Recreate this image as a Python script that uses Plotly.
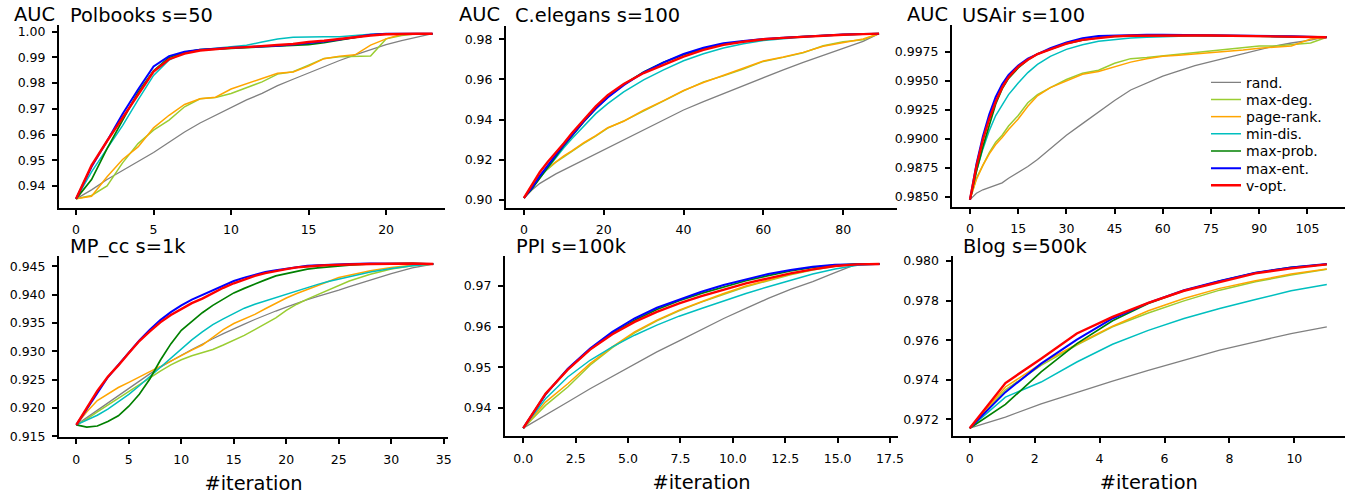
import plotly.graph_objects as go

W, H = 1351, 496

METHODS = ["rand.", "max-deg.", "page-rank.", "min-dis.", "max-prob.", "max-ent.", "v-opt."]

# ---------------- Polbooks s=50 ----------------
polbooks_x = list(range(24))
polbooks_rand = [0.935, 0.9385, 0.9425, 0.946, 0.9495, 0.953, 0.957, 0.961, 0.9645, 0.9675, 0.9705, 0.9735,
                 0.976, 0.979, 0.9815, 0.984, 0.9865, 0.9888, 0.991, 0.993, 0.995, 0.9965, 0.998, 0.9992]
polbooks_maxdeg = [0.935, 0.9363, 0.940, 0.949, 0.9565, 0.9617, 0.9656, 0.9708, 0.9739, 0.9744, 0.976, 0.9783,
                   0.9805, 0.9835, 0.9844, 0.987, 0.9896, 0.9903, 0.9905, 0.9905, 0.9972, 0.9985, 0.9992, 0.9992]
polbooks_pagerank = [0.935, 0.936, 0.9436, 0.9503, 0.9552, 0.9626, 0.9675, 0.9717, 0.9739, 0.9745, 0.9777, 0.9799,
                     0.9818, 0.9838, 0.9843, 0.9866, 0.9895, 0.9905, 0.991, 0.9948, 0.9972, 0.999, 0.9992, 0.9992]
polbooks_mindis = [0.935, 0.9455, 0.9545, 0.9635, 0.9735, 0.983, 0.989, 0.992, 0.993, 0.9935, 0.994, 0.9947,
                   0.996, 0.9972, 0.9978, 0.998, 0.998, 0.998, 0.9985, 0.999, 0.9992, 0.9992, 0.9992, 0.9992]
polbooks_maxprob = [0.935, 0.9425, 0.9545, 0.9655, 0.9765, 0.9848, 0.990, 0.992, 0.993, 0.9932, 0.9935, 0.9937,
                    0.994, 0.9942, 0.9945, 0.995, 0.9957, 0.9967, 0.9978, 0.9987, 0.9992, 0.9992, 0.9992, 0.9992]
polbooks_maxent = [0.935, 0.9475, 0.9575, 0.968, 0.9775, 0.9865, 0.9905, 0.9922, 0.993, 0.9935, 0.9938, 0.994,
                   0.9942, 0.9945, 0.995, 0.9955, 0.9962, 0.997, 0.998, 0.9988, 0.9992, 0.9992, 0.9992, 0.9992]
polbooks_vopt = [0.935, 0.948, 0.9575, 0.9665, 0.976, 0.9845, 0.9893, 0.9915, 0.9927, 0.9933, 0.9937, 0.994,
                 0.9945, 0.9948, 0.9952, 0.996, 0.9965, 0.9972, 0.998, 0.9985, 0.999, 0.9992, 0.9992, 0.9992]

# ---------------- C.elegans s=100 ----------------
celegans_x = [0, 2, 4, 6, 8, 10, 12, 15, 18, 21, 25, 30, 35, 40, 45, 50, 55, 60, 65, 70, 75, 80, 85, 89]
celegans_rand = [0.901, 0.905, 0.9083, 0.9108, 0.913, 0.915, 0.917, 0.920, 0.923, 0.926, 0.930, 0.935,
                 0.940, 0.9448, 0.949, 0.953, 0.957, 0.961, 0.9648, 0.9685, 0.972, 0.9755, 0.979, 0.9828]
celegans_maxdeg = [0.901, 0.907, 0.912, 0.9155, 0.9188, 0.9215, 0.9243, 0.9282, 0.9318, 0.9358, 0.9393, 0.9443,
                   0.9492, 0.9543, 0.9588, 0.9618, 0.9652, 0.969, 0.971, 0.9733, 0.9768, 0.9788, 0.9798, 0.9828]
celegans_pagerank = [0.901, 0.9075, 0.9125, 0.916, 0.919, 0.922, 0.9245, 0.9285, 0.932, 0.936, 0.9392, 0.9447,
                     0.9495, 0.9545, 0.9585, 0.962, 0.9655, 0.9692, 0.9712, 0.9735, 0.9765, 0.9785, 0.9802, 0.9828]
celegans_mindis = [0.901, 0.906, 0.9115, 0.9165, 0.9215, 0.926, 0.9305, 0.937, 0.943, 0.948, 0.9538, 0.9598,
                   0.9648, 0.9693, 0.9728, 0.9757, 0.9778, 0.9794, 0.9804, 0.9812, 0.9818, 0.9823, 0.9826, 0.9828]
celegans_maxprob = [0.901, 0.9055, 0.911, 0.9165, 0.9218, 0.927, 0.9318, 0.939, 0.9455, 0.9512, 0.9575, 0.9637,
                    0.9685, 0.9723, 0.9753, 0.9775, 0.979, 0.980, 0.9807, 0.9814, 0.982, 0.9824, 0.9826, 0.9828]
celegans_maxent = [0.901, 0.906, 0.912, 0.9175, 0.9225, 0.9275, 0.9322, 0.9392, 0.9455, 0.951, 0.9572, 0.9635,
                   0.9685, 0.9727, 0.9758, 0.978, 0.9792, 0.9802, 0.9808, 0.9814, 0.982, 0.9824, 0.9826, 0.9828]
celegans_vopt = [0.901, 0.9075, 0.914, 0.919, 0.9235, 0.9283, 0.9332, 0.940, 0.9466, 0.9522, 0.9578, 0.9632,
                 0.9675, 0.9714, 0.9747, 0.9772, 0.9788, 0.980, 0.9807, 0.9813, 0.9819, 0.9823, 0.9826, 0.9828]

# ---------------- USAir s=100 ----------------
usair_x = [0, 2, 4, 6, 8, 10, 12, 15, 18, 21, 25, 30, 35, 40, 45, 50, 55, 60, 65, 70, 75, 80, 85, 90, 95, 100, 106, 111]
usair_rand = [0.98475, 0.9853, 0.9856, 0.9858, 0.986, 0.9862, 0.9866, 0.9871, 0.9876, 0.9882, 0.9891, 0.9903,
              0.9913, 0.9923, 0.9933, 0.9942, 0.9948, 0.9954, 0.99585, 0.9963, 0.99665, 0.997, 0.99735, 0.9977,
              0.998, 0.99825, 0.9985, 0.9988]
usair_maxdeg = [0.98475, 0.9866, 0.9877, 0.9888, 0.9897, 0.9903, 0.9911, 0.992, 0.9931, 0.9938, 0.9944, 0.9951,
                0.99565, 0.9959, 0.9965, 0.9969, 0.997, 0.99715, 0.9973, 0.9974, 0.99755, 0.9977, 0.99785, 0.998,
                0.998, 0.99812, 0.99825, 0.99875]
usair_pagerank = [0.98475, 0.9865, 0.9877, 0.9887, 0.9895, 0.9901, 0.9908, 0.9917, 0.9928, 0.9937, 0.9944, 0.995,
                  0.99555, 0.9958, 0.9962, 0.9966, 0.9969, 0.9971, 0.9972, 0.9973, 0.9974, 0.9975, 0.99765, 0.9978,
                  0.9979, 0.998, 0.9986, 0.99875]
usair_mindis = [0.98475, 0.9872, 0.9891, 0.9907, 0.992, 0.9929, 0.9938, 0.9948, 0.9957, 0.9964, 0.9971, 0.9977,
                0.9981, 0.9984, 0.99855, 0.99868, 0.99875, 0.9988, 0.99885, 0.99888, 0.99888, 0.99887, 0.99886,
                0.99884, 0.99882, 0.9988, 0.99878, 0.99875]
usair_maxprob = [0.98475, 0.9872, 0.9893, 0.9912, 0.993, 0.9943, 0.9952, 0.9961, 0.9968, 0.9973, 0.9977, 0.9982,
                 0.9985, 0.9987, 0.99882, 0.99888, 0.9989, 0.99892, 0.99892, 0.9989, 0.9989, 0.99888, 0.99886,
                 0.99884, 0.99882, 0.9988, 0.99878, 0.99875]
usair_maxent = [0.98475, 0.9878, 0.9902, 0.9921, 0.9936, 0.9947, 0.9955, 0.9963, 0.9969, 0.9973, 0.9978, 0.9983,
                0.99865, 0.99885, 0.9989, 0.99895, 0.99897, 0.99897, 0.99896, 0.99895, 0.99893, 0.9989, 0.99888,
                0.99886, 0.99884, 0.99882, 0.99878, 0.99875]
usair_vopt = [0.98475, 0.9876, 0.9899, 0.9917, 0.9932, 0.9944, 0.9953, 0.9962, 0.9968, 0.9973, 0.9977, 0.9982,
              0.99852, 0.9987, 0.99882, 0.99888, 0.9989, 0.99892, 0.99892, 0.9989, 0.9989, 0.99888, 0.99886,
              0.99884, 0.99882, 0.9988, 0.99878, 0.99875]

# ---------------- MP_cc s=1k ----------------
mpcc_x = list(range(27)) + [28, 30, 32, 34]
mpcc_rand = [0.917, 0.9183, 0.9196, 0.9209, 0.9222, 0.9235, 0.9248, 0.926, 0.9272, 0.9283, 0.9293, 0.9303,
             0.9313, 0.9322, 0.9331, 0.934, 0.9348, 0.9356, 0.9364, 0.9371, 0.9378, 0.9385, 0.9391, 0.9397,
             0.9402, 0.9408, 0.9414, 0.9426, 0.9437, 0.9447, 0.9454]
mpcc_maxdeg = [0.917, 0.918, 0.9193, 0.9205, 0.9217, 0.923, 0.9242, 0.9254, 0.9265, 0.9276, 0.9285, 0.9292,
               0.9298, 0.9303, 0.9311, 0.9319, 0.9328, 0.9338, 0.9349, 0.9359, 0.9372, 0.9383, 0.9392, 0.940,
               0.9409, 0.9417, 0.9424, 0.9436, 0.9445, 0.9451, 0.9454]
mpcc_pagerank = [0.917, 0.9193, 0.9213, 0.9225, 0.9236, 0.9245, 0.9255, 0.9264, 0.9273, 0.9283, 0.9293, 0.9302,
                 0.9311, 0.9325, 0.9338, 0.9349, 0.9357, 0.9365, 0.9375, 0.9385, 0.9394, 0.9402, 0.9409, 0.9416,
                 0.9422, 0.943, 0.9434, 0.9442, 0.9448, 0.9452, 0.9454]
mpcc_mindis = [0.917, 0.9178, 0.9187, 0.9198, 0.9211, 0.9224, 0.9239, 0.9255, 0.9271, 0.9288, 0.9304, 0.932,
               0.9334, 0.9347, 0.9357, 0.9367, 0.9376, 0.9383, 0.9389, 0.9395, 0.9401, 0.9406, 0.9412, 0.9418,
               0.9423, 0.9427, 0.9432, 0.944, 0.9446, 0.9451, 0.9454]
mpcc_maxprob = [0.917, 0.9166, 0.9168, 0.9176, 0.9186, 0.9203, 0.9224, 0.9251, 0.9284, 0.9313, 0.9337, 0.9353,
                0.9368, 0.9381, 0.9392, 0.9403, 0.9411, 0.9419, 0.9426, 0.9433, 0.9437, 0.9441, 0.9445, 0.9447,
                0.9449, 0.945, 0.9452, 0.9454, 0.9455, 0.9455, 0.9454]
mpcc_maxent = [0.917, 0.9198, 0.9228, 0.9254, 0.9276, 0.9298, 0.9319, 0.9338, 0.9355, 0.9369, 0.9381, 0.9391,
               0.9399, 0.9408, 0.9416, 0.9424, 0.943, 0.9435, 0.944, 0.9443, 0.9446, 0.9449, 0.9451, 0.9452,
               0.9453, 0.9454, 0.9454, 0.9455, 0.9455, 0.9455, 0.9454]
mpcc_vopt = [0.917, 0.9201, 0.923, 0.9255, 0.9275, 0.9297, 0.9318, 0.9335, 0.9351, 0.9364, 0.9375, 0.9385,
             0.9393, 0.9403, 0.9412, 0.942, 0.9427, 0.9433, 0.9438, 0.9442, 0.9445, 0.9448, 0.945, 0.9451,
             0.9452, 0.9453, 0.9453, 0.9454, 0.9455, 0.9455, 0.9454]

# ---------------- PPI s=100k ----------------
ppi_x = [0.0, 1.0625, 2.125, 3.1875, 4.25, 5.3125, 6.375, 7.4375, 8.5, 9.5625, 10.625, 11.6875, 12.75,
         13.8125, 14.875, 15.9375, 17.0]
ppi_rand = [0.93508, 0.9382, 0.94149, 0.94477, 0.94781, 0.95094, 0.95381, 0.95652, 0.95932, 0.96203, 0.9645,
            0.96696, 0.96918, 0.97107, 0.97329, 0.97542, 0.97542]
ppi_maxdeg = [0.93508, 0.94067, 0.94519, 0.95053, 0.95489, 0.9585, 0.96146, 0.96392, 0.96606, 0.96803, 0.96984,
              0.97132, 0.97279, 0.97394, 0.97485, 0.97542, 0.97542]
ppi_pagerank = [0.93508, 0.94149, 0.946, 0.95094, 0.95505, 0.95874, 0.96162, 0.96408, 0.96614, 0.96819, 0.97,
                0.97148, 0.97296, 0.97411, 0.97493, 0.97542, 0.97542]
ppi_mindis = [0.93508, 0.94231, 0.94765, 0.95176, 0.95505, 0.95792, 0.96039, 0.9626, 0.96449, 0.96638, 0.96819,
              0.96984, 0.97148, 0.97296, 0.97419, 0.9751, 0.97542]
ppi_maxprob = [0.93508, 0.94338, 0.94954, 0.95447, 0.95833, 0.96162, 0.96425, 0.96639, 0.96819, 0.96984, 0.97131,
               0.97255, 0.9737, 0.9746, 0.97518, 0.97542, 0.97542]
ppi_maxent = [0.93508, 0.94338, 0.9497, 0.95463, 0.95874, 0.96203, 0.96466, 0.96671, 0.9686, 0.97025, 0.97164,
              0.97296, 0.97394, 0.97477, 0.97526, 0.97542, 0.97542]
ppi_vopt = [0.93508, 0.94354, 0.94946, 0.95439, 0.95817, 0.96121, 0.96367, 0.96573, 0.96753, 0.96918, 0.97066,
            0.97189, 0.97312, 0.97411, 0.97493, 0.97534, 0.97542]

# ---------------- Blog s=500k ----------------
blog_x = [0.0, 1.1, 2.2, 3.3, 4.4, 5.5, 6.6, 7.7, 8.8, 9.9, 11.0]
blog_rand = [0.97156, 0.97212, 0.97279, 0.97338, 0.97394, 0.97448, 0.97499, 0.9755, 0.97592, 0.97634, 0.97668]
blog_maxdeg = [0.97156, 0.9735, 0.97473, 0.97575, 0.97668, 0.97738, 0.97799, 0.97853, 0.97895, 0.97929, 0.97958]
blog_pagerank = [0.97156, 0.97364, 0.97482, 0.9758, 0.97671, 0.97749, 0.97811, 0.97862, 0.979, 0.97934, 0.9796]
blog_mindis = [0.97156, 0.97313, 0.97389, 0.9749, 0.9758, 0.9765, 0.9771, 0.9776, 0.97806, 0.9785, 0.97882]
blog_maxprob = [0.97156, 0.97276, 0.9744, 0.97583, 0.97698, 0.97786, 0.9785, 0.97899, 0.97941, 0.97968, 0.97983]
blog_maxent = [0.97156, 0.97338, 0.97482, 0.97603, 0.9771, 0.97789, 0.97853, 0.979, 0.97941, 0.97968, 0.97985]
blog_vopt = [0.97156, 0.97384, 0.97507, 0.97634, 0.97718, 0.97789, 0.9785, 0.97895, 0.97938, 0.97963, 0.97983]

# ---------------- styling ----------------
COLORS = ["#808080", "#9acd32", "#ffa500", "#00bfbf", "#008000", "#0000ff", "#ff0000"]
WIDTHS = [1.3, 1.5, 1.5, 1.5, 1.7, 2.0, 2.4]
FONT = "DejaVu Sans"

panels = [
    dict(name="Polbooks s=50", x=polbooks_x,
         ys=[polbooks_rand, polbooks_maxdeg, polbooks_pagerank, polbooks_mindis, polbooks_maxprob, polbooks_maxent, polbooks_vopt],
         xd=(59, 445), yd=(25, 207.7), xr=(-1.1, 23.8), yr=(0.93156, 1.0026),
         xt=(0, 5, None), yt=(0.94, 0.01, ".2f"), auc_x=11.7, title_x=67.7, row=1),
    dict(name="C.elegans s=100", x=celegans_x,
         ys=[celegans_rand, celegans_maxdeg, celegans_pagerank, celegans_mindis, celegans_maxprob, celegans_maxent, celegans_vopt],
         xd=(506, 897), yd=(26, 207.5), xr=(-4.5, 93.5), yr=(0.89627, 0.98662),
         xt=(0, 20, None), yt=(0.90, 0.02, ".2f"), auc_x=457.3, title_x=513.3, row=1),
    dict(name="USAir s=100", x=usair_x,
         ys=[usair_rand, usair_maxdeg, usair_pagerank, usair_mindis, usair_maxprob, usair_maxent, usair_vopt],
         xd=(952, 1345), yd=(25, 207.3), xr=(-5.6, 116.7), yr=(0.98409, 0.9998),
         xt=(0, 15, None), yt=(0.985, 0.0025, ".4f"), auc_x=905, title_x=960, row=1),
    dict(name="MP_cc s=1k", x=mpcc_x,
         ys=[mpcc_rand, mpcc_maxdeg, mpcc_pagerank, mpcc_mindis, mpcc_maxprob, mpcc_maxent, mpcc_vopt],
         xd=(59, 448), yd=(255.5, 436.5), xr=(-1.65, 35.4), yr=(0.91495, 0.9469),
         xt=(0, 5, None), yt=(0.915, 0.005, ".3f"), auc_x=None, title_x=67.7, row=2),
    dict(name="PPI s=100k", x=ppi_x,
         ys=[ppi_rand, ppi_maxdeg, ppi_pagerank, ppi_mindis, ppi_maxprob, ppi_maxent, ppi_vopt],
         xd=(505, 898), yd=(256, 435.5), xr=(-0.87, 17.88), yr=(0.93327, 0.97739),
         xt=(0, 2.5, ".1f"), yt=(0.94, 0.01, ".2f"), auc_x=None, title_x=514, row=2),
    dict(name="Blog s=500k", x=blog_x,
         ys=[blog_rand, blog_maxdeg, blog_pagerank, blog_mindis, blog_maxprob, blog_maxent, blog_vopt],
         xd=(952.5, 1345), yd=(255.5, 435.5), xr=(-0.53, 11.56), yr=(0.97119, 0.98028),
         xt=(0, 2, None), yt=(0.972, 0.002, ".3f"), auc_x=None, title_x=961, row=2),
]

LEGEND_PANEL = 2
LEGEND_LEFT = 1206
LEGEND_ROW0 = 82.7
LEGEND_STEP = 17.17

fig = go.Figure()
layout = dict(
    width=W, height=H, margin=dict(l=0, r=0, t=0, b=0),
    paper_bgcolor="white", plot_bgcolor="white",
    font=dict(family=FONT, color="black", size=12.5),
    showlegend=True,
    annotations=[],
)

# one single-entry legend per method (legend2..legend8) so rows sit as close as in the reference
legend_ids = []
for j in range(len(METHODS)):
    lid = "legend%d" % (j + 2)
    legend_ids.append(lid)
    layout[lid] = dict(x=LEGEND_LEFT / W, y=1 - (LEGEND_ROW0 + LEGEND_STEP * j) / H,
                       xanchor="left", yanchor="middle", orientation="v",
                       font=dict(family=FONT, size=14, color="black"),
                       bgcolor="rgba(0,0,0,0)", borderwidth=0)

axis_common = dict(showline=True, linecolor="black", linewidth=2, ticks="outside", ticklen=5,
                   tickwidth=1.5, tickcolor="black", showgrid=False, zeroline=False, mirror=False,
                   tickfont=dict(family=FONT, size=12.5, color="black"), automargin=False)

for i, p in enumerate(panels):
    k = "" if i == 0 else str(i + 1)
    xa, ya = "x" + k, "y" + k
    for j, (m, yv) in enumerate(zip(METHODS, p["ys"])):
        fig.add_trace(go.Scatter(x=p["x"], y=yv, mode="lines", name=m, xaxis=xa, yaxis=ya,
                                 line=dict(color=COLORS[j], width=WIDTHS[j]),
                                 showlegend=(i == LEGEND_PANEL), legend=legend_ids[j],
                                 hoverinfo="skip"))
    xd = [p["xd"][0] / W, p["xd"][1] / W]
    yd = [1 - p["yd"][1] / H, 1 - p["yd"][0] / H]
    xax = dict(axis_common, domain=xd, range=list(p["xr"]), anchor=ya, tickmode="linear",
               tick0=p["xt"][0], dtick=p["xt"][1], ticklabelstandoff=4 if p["row"] == 1 else 5)
    if p["xt"][2]:
        xax["tickformat"] = p["xt"][2]
    if p["row"] == 2:
        xax["title"] = dict(text="#iteration", font=dict(family=FONT, size=19.4, color="black"), standoff=11)
    yax = dict(axis_common, domain=yd, range=list(p["yr"]), anchor=xa, tickmode="linear",
               tick0=p["yt"][0], dtick=p["yt"][1], tickformat=p["yt"][2], ticklabelstandoff=4)
    layout["xaxis" + k] = xax
    layout["yaxis" + k] = yax
    ty = 15 if p["row"] == 1 else 246
    layout["annotations"].append(dict(text=p["name"], xref="paper", yref="paper", x=p["title_x"] / W,
                                      y=1 - ty / H, xanchor="left", yanchor="middle", showarrow=False,
                                      font=dict(family=FONT, size=19.4, color="black")))
    if p["auc_x"] is not None:
        layout["annotations"].append(dict(text="AUC", xref="paper", yref="paper", x=p["auc_x"] / W,
                                          y=1 - (ty - 0.5) / H, xanchor="left", yanchor="middle", showarrow=False,
                                          font=dict(family=FONT, size=19.4, color="black")))

fig.update_layout(**layout)
fig.write_html("out.html", include_plotlyjs=True, full_html=True,
               config={"displayModeBar": False},
               post_script="document.body.style.margin='0';document.body.style.overflow='hidden';")
